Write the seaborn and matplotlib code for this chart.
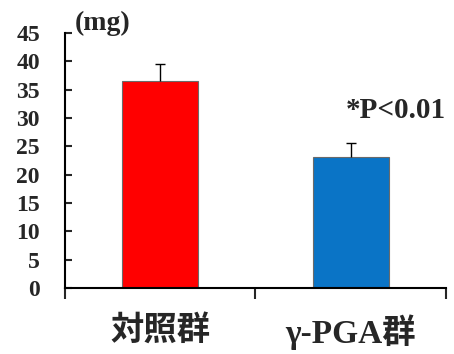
import matplotlib
matplotlib.use("Agg")
import matplotlib.pyplot as plt
import seaborn as sns
import pandas as pd

categories = ["対照群", "γ-PGA群"]
values = [36.6, 23.2]
err_upper = [3.0, 2.4]
colors = ["#FF0000", "#0A74C6"]
yticks = [0, 5, 10, 15, 20, 25, 30, 35, 40, 45]

sns.set_theme(style="white")
plt.rcParams['font.family'] = ['Liberation Serif', 'Noto Sans CJK JP']

fig = plt.figure(figsize=(4.54, 3.54), dpi=100)
ax = fig.add_axes([0.143, 0.186, 0.839, 0.721])

df = pd.DataFrame({"group": categories, "value": values})
sns.barplot(data=df, x="group", y="value", hue="group", palette=colors,
            saturation=1, width=0.4, errorbar=None, legend=False, ax=ax,
            edgecolor="#6a6a6a", linewidth=0.8)
eb = ax.errorbar(range(len(values)), values, yerr=[[0]*len(values), err_upper],
                 fmt="none", ecolor="black", elinewidth=1.0, capsize=3.5, capthick=1.0)
# hide the lower caps (only upper error shown)
if len(eb[1]) >= 2:
    eb[1][0].set_visible(False)

ax.set_xlim(-0.5, 1.5)
ax.set_ylim(0, 45)
ax.set_yticks(yticks)
ax.set_yticklabels([str(t) for t in yticks], fontsize=17, fontweight="bold",
                   family=['Liberation Serif'])
ax.tick_params(axis="y", direction="in", length=5, width=1.5, pad=18, left=True)
ax.set_xticks([0, 1])
ax.set_xticklabels(categories, fontsize=24, fontweight="bold",
                   family=['Liberation Serif', 'Noto Sans CJK JP'])
ax.tick_params(axis="x", which="major", length=0, pad=19)
ax.set_xticks([-0.5, 0.5, 1.5], minor=True)
ax.tick_params(axis="x", which="minor", direction="out", length=8, width=1.5, bottom=True)
ax.set_xlabel("")
ax.set_ylabel("")
for s in ["top", "right"]:
    ax.spines[s].set_visible(False)
for s in ["left", "bottom"]:
    ax.spines[s].set_linewidth(1.5)
    ax.spines[s].set_color("black")

fig.text(75/454, 1 - 23/354, "(mg)", fontsize=20, fontweight="bold",
         family=['Liberation Serif'], va="center", ha="left")
ax.text(1.5, values[1] + err_upper[1] + 5.7, "*P<0.01", fontsize=21,
        fontweight="bold", family=['Liberation Serif'], ha="right", va="center")

fig.savefig("out.png", dpi=100)
